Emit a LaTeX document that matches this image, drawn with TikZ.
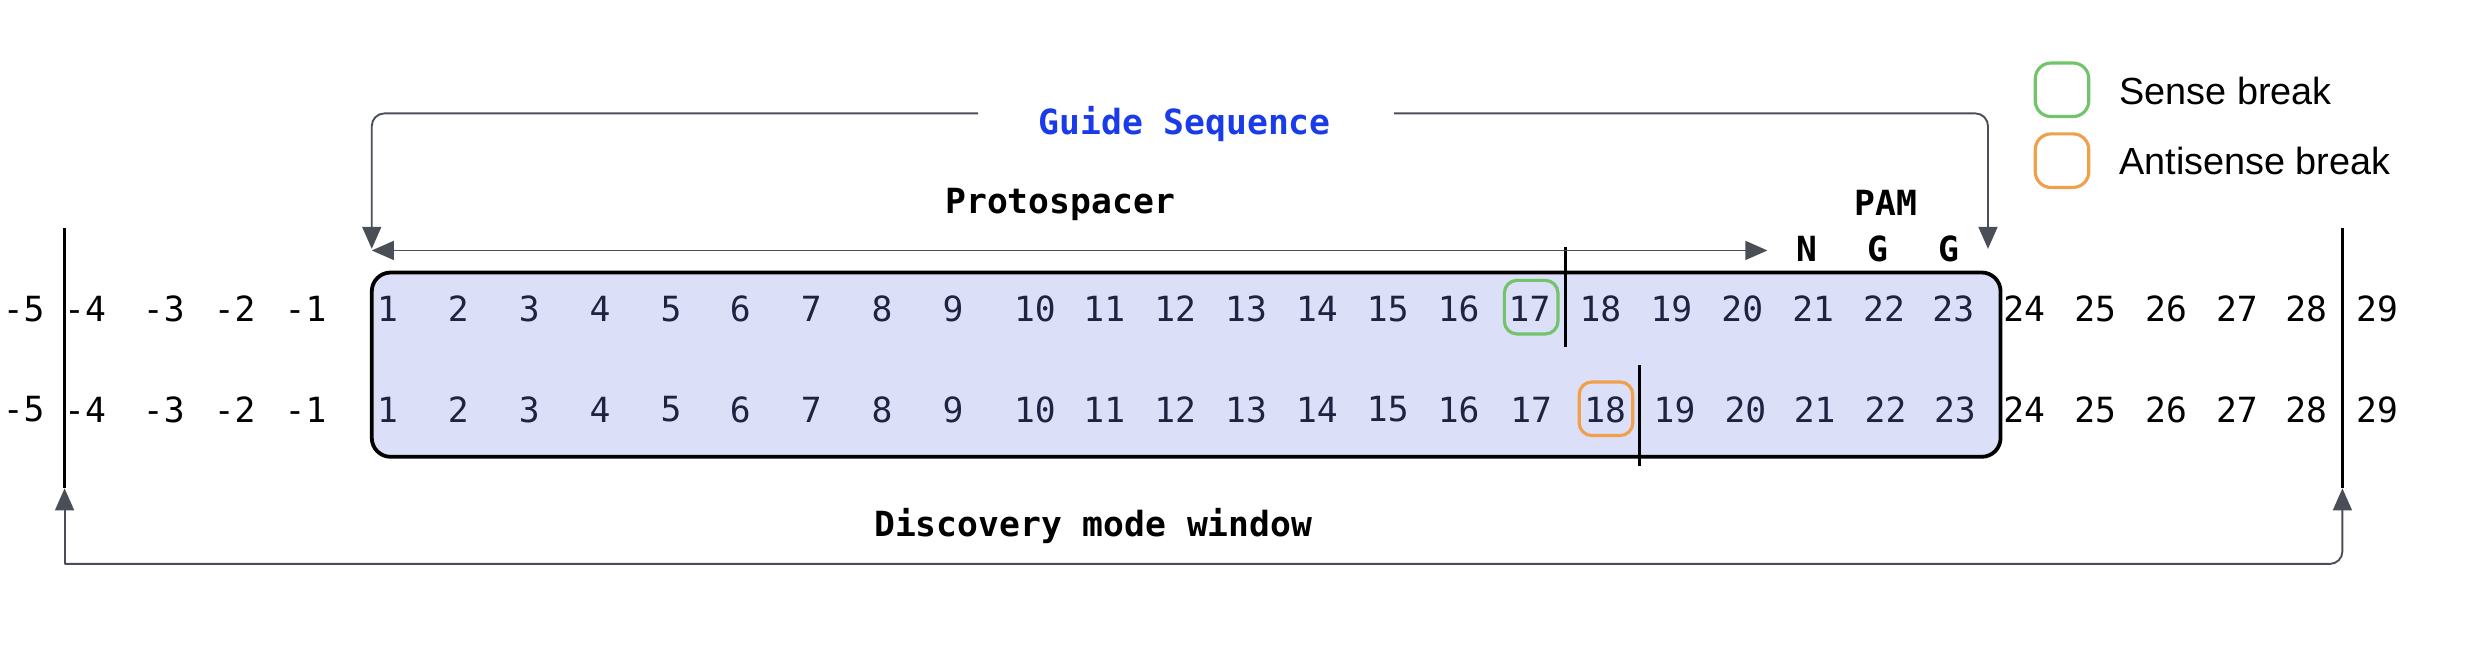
\documentclass[tikz,border=0pt]{standalone}
\usepackage{fontspec}
\setmonofont{DejaVu Sans Mono}
\setsansfont{Liberation Sans}
\usetikzlibrary{arrows.meta}
\definecolor{boxfill}{HTML}{DCDFF8}
\definecolor{conn}{HTML}{4A4F57}
\definecolor{gblue}{HTML}{1A3BE8}
\definecolor{sgreen}{HTML}{72C46A}
\definecolor{aorange}{HTML}{F0A04B}
\definecolor{navy}{HTML}{1E2340}
\begin{document}
\begin{tikzpicture}[x=0.5pt,y=-0.5pt,
  num/.style={font=\ttfamily\fontsize{11}{13}\selectfont,inner sep=0pt,anchor=center},
  lbl/.style={font=\ttfamily\bfseries\fontsize{11}{13}\selectfont,inner sep=0pt},
  leg/.style={font=\sffamily\fontsize{12}{14}\selectfont,inner sep=0pt,anchor=west},
  conarrow/.style={draw=conn,line width=0.6pt,-{Triangle[length=7pt,width=6pt]},rounded corners=4pt},
  cut/.style={draw=black,line width=1pt}]
\useasboundingbox (0,0) rectangle (1568,421);
% main box
\draw[fill=boxfill,line width=1.2pt,rounded corners=6pt] (236,173) rectangle (1270,290);
\node (box) at (753,231) {};
% numbers
\foreach \i/\x in {-5/15,-4/54,-3/104,-2/149,-1/194,24/1285,25/1330,26/1375,27/1420,28/1464,29/1509}{
  \node[num] (a\i) at (\x,196) {\i};
  \node[num] (b\i) at (\x,260) {\i};}
\foreach \i/\x in {1/246,2/291,3/336,4/381,5/426,6/470,7/515,8/560,9/605,10/657,11/701,12/746,13/791,14/836,15/881,16/926,17/971,18/1016,19/1061,20/1106,21/1151,22/1196,23/1240}{
  \node[num,text=navy] (a\i) at (\x,196) {\i};}
\foreach \i/\x in {1/246,2/291,3/336,4/381,5/426,6/470,7/515,8/560,9/605,10/657,11/701,12/746,13/791,14/836,15/881,16/926,17/972,18/1019,19/1063,20/1108,21/1152,22/1197,23/1241}{
  \node[num,text=navy] (b\i) at (\x,260) {\i};}
% break markers
\node[draw=sgreen,line width=1pt,rounded corners=4pt,minimum width=17pt,minimum height=17pt] (sg) at (972,195) {};
\node[draw=aorange,line width=1pt,rounded corners=4pt,minimum width=17pt,minimum height=17pt] (ao) at (1019.5,259.5) {};
\coordinate (c1t) at (994,157); \coordinate (c1b) at (994,220);
\coordinate (c2t) at (1041,232); \coordinate (c2b) at (1041,296);
\draw[cut] (c1t) -- (c1b);
\draw[cut] (c2t) -- (c2b);
% discovery window lines
\coordinate (wlt) at (41,145); \coordinate (wlb) at (41,310);
\coordinate (wrt) at (1487,145); \coordinate (wrb) at (1487,310);
\draw[line width=1.2pt] (wlt) -- (wlb);
\draw[line width=1.2pt] (wrt) -- (wrb);
\node[lbl] (dm) at (694,334) {Discovery mode window};
\coordinate (dbl) at (41,358); \coordinate (dbr) at (1487,358);
\draw[conarrow] (dbl) -- (wlb);
\draw[conarrow] (dbl) -- (dbr) -- (wrb);
% guide sequence
\node[lbl,text=gblue] (gs) at (752,79) {Guide Sequence};
\coordinate (gl) at (236,158); \coordinate (gr) at (1262,158);
\draw[conarrow] (621,72) -| (gl);
\draw[conarrow] (885,72) -| (gr);
% protospacer
\node[lbl] (ps) at (673,130) {Protospacer};
\coordinate (psl) at (236,159); \coordinate (psr) at (1122,159);
\draw[draw=conn,line width=0.6pt,{Triangle[length=7pt,width=6pt]}-{Triangle[length=7pt,width=6pt]}] (psl) -- (psr);
% PAM
\node[lbl] (pam) at (1197,129) {PAM};
\node[lbl] (pn) at (1147,158) {N};
\node[lbl] (pg1) at (1192,158) {G};
\node[lbl] (pg2) at (1237,158) {G};
% legend
\node[draw=sgreen,line width=1pt,rounded corners=5pt,minimum width=17pt,minimum height=17pt] (lg) at (1309,57) {};
\node[leg] (lgt) at (1345,58) {Sense break};
\node[draw=aorange,line width=1pt,rounded corners=5pt,minimum width=17pt,minimum height=17pt] (lo) at (1309,102) {};
\node[leg] (lot) at (1345,102) {Antisense break};
\end{tikzpicture}
\end{document}
